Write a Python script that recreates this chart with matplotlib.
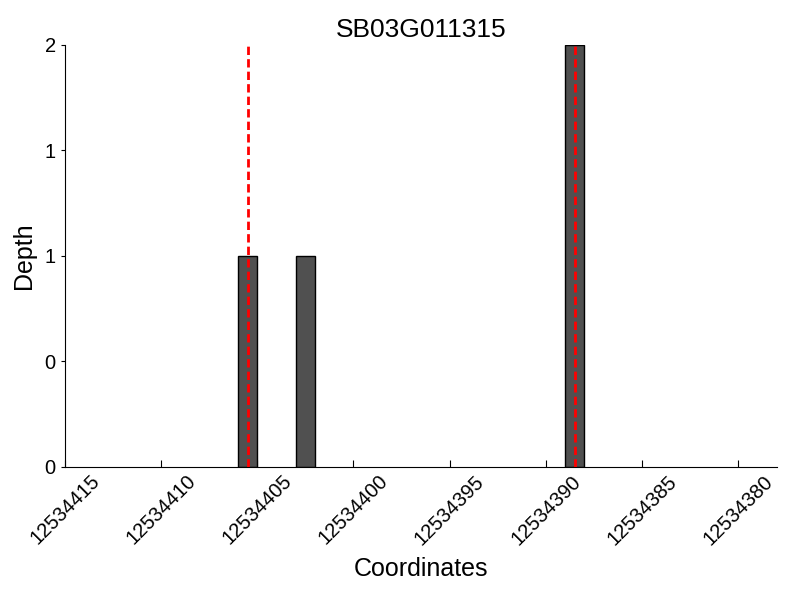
import matplotlib
matplotlib.use('Agg')
import matplotlib.pyplot as plt
from matplotlib.ticker import FormatStrFormatter

# Data
gene = 'SB03G011315'
positions = [12534405, 12534402, 12534388]
depths = [1, 1, 2]
marks = [12534405.5, 12534388.5]
x_ticks = [12534415, 12534410, 12534405, 12534400, 12534395, 12534390, 12534385, 12534380]
y_ticks = [0, 0.5, 1, 1.5, 2]

plt.rcParams['font.family'] = ['Liberation Sans', 'DejaVu Sans']

fig = plt.figure(figsize=(8, 6), dpi=100)
ax = fig.add_axes([0.081, 0.222, 0.89, 0.703])

# Depth bars
ax.bar(positions, depths, width=1, align='edge', color='#505050',
       edgecolor='black', linewidth=1, zorder=2)

# Marker lines
for m in marks:
    ax.axvline(m, color='red', linewidth=2, dashes=(3, 1.5), zorder=3)

ax.set_xlim(12534415, 12534378)
ax.set_ylim(0, 2)
ax.set_xticks(x_ticks)
ax.set_xticklabels([str(t) for t in x_ticks], rotation=45)
ax.set_yticks(y_ticks)
ax.yaxis.set_major_formatter(FormatStrFormatter('%d'))

ax.spines['top'].set_visible(False)
ax.spines['right'].set_visible(False)
ax.tick_params(axis='x', direction='in', length=5, labelsize=14.5)
ax.tick_params(axis='y', direction='out', length=3, labelsize=14.5)

ax.set_xlabel('Coordinates', fontsize=18, labelpad=6)
ax.set_ylabel('Depth', fontsize=18, labelpad=6)
ax.set_title(gene, fontsize=19)

fig.savefig('out.png', dpi=100)
